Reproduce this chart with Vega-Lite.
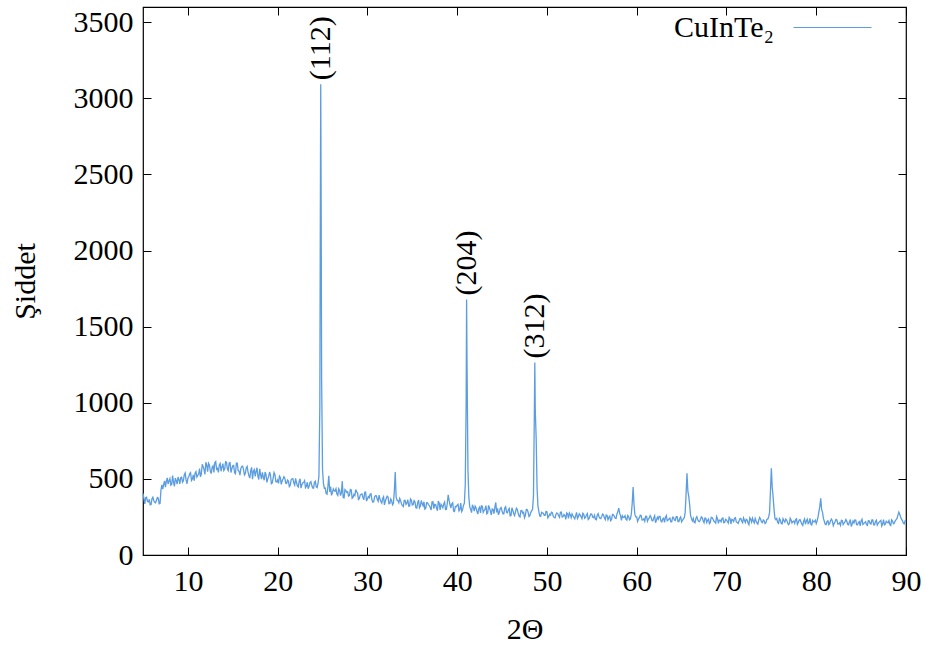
{
  "$schema": "https://vega.github.io/schema/vega-lite/v6.json",
  "width": 763,
  "height": 548,
  "autosize": {"type": "none"},
  "padding": {"left": 143, "top": 7, "right": 20, "bottom": 91},
  "background": "white",
  "config": {
    "view": {"stroke": "black", "strokeWidth": 1.2},
    "font": "Liberation Serif",
    "mark": {"font": "Liberation Serif"},
    "text": {"font": "Liberation Serif"},
    "axis": {
      "grid": false,
      "domain": false,
      "tickColor": "black",
      "tickSize": -8,
      "tickWidth": 1,
      "labelFlush": false,
      "labelFont": "Liberation Serif",
      "labelFontSize": 30,
      "labelColor": "black",
      "titleFont": "Liberation Serif",
      "titleFontSize": 30,
      "titleFontWeight": "normal",
      "titleColor": "black"
    },
    "legend": {
      "labelFont": "Liberation Serif",
      "labelFontSize": 30,
      "labelColor": "black"
    }
  },
  "datasets": {
    "xrd": [
      {"t":5.0,"i":405},{"t":5.2,"i":335},{"t":5.4,"i":379},{"t":5.6,"i":349},{"t":5.8,"i":330},{"t":6.0,"i":369},{"t":6.2,"i":358},{"t":6.4,"i":343},{"t":6.6,"i":377},{"t":6.8,"i":337},
      {"t":7.0,"i":427},{"t":7.2,"i":432},{"t":7.4,"i":487},{"t":7.6,"i":483},{"t":7.8,"i":466},{"t":8.0,"i":502},{"t":8.2,"i":464},{"t":8.4,"i":479},{"t":8.6,"i":505},{"t":8.8,"i":466},
      {"t":9.0,"i":497},{"t":9.2,"i":508},{"t":9.4,"i":478},{"t":9.6,"i":528},{"t":9.8,"i":493},{"t":10.0,"i":504},{"t":10.2,"i":533},{"t":10.4,"i":490},{"t":10.6,"i":527},{"t":10.8,"i":538},
      {"t":11.0,"i":512},{"t":11.2,"i":532},{"t":11.4,"i":513},{"t":11.6,"i":596},{"t":11.8,"i":563},{"t":12.0,"i":609},{"t":12.2,"i":548},{"t":12.4,"i":592},{"t":12.6,"i":535},{"t":12.8,"i":586},
      {"t":13.0,"i":608},{"t":13.2,"i":563},{"t":13.4,"i":543},{"t":13.6,"i":601},{"t":13.8,"i":579},{"t":14.0,"i":555},{"t":14.2,"i":612},{"t":14.4,"i":565},{"t":14.6,"i":604},{"t":14.8,"i":542},
      {"t":15.0,"i":586},{"t":15.2,"i":540},{"t":15.4,"i":604},{"t":15.6,"i":555},{"t":15.8,"i":525},{"t":16.0,"i":581},{"t":16.2,"i":561},{"t":16.4,"i":535},{"t":16.6,"i":582},{"t":16.8,"i":520},
      {"t":17.0,"i":554},{"t":17.2,"i":498},{"t":17.4,"i":561},{"t":17.6,"i":550},{"t":17.8,"i":517},{"t":18.0,"i":566},{"t":18.2,"i":499},{"t":18.4,"i":513},{"t":18.6,"i":545},{"t":18.8,"i":477},
      {"t":19.0,"i":516},{"t":19.2,"i":525},{"t":19.4,"i":473},{"t":19.6,"i":542},{"t":19.8,"i":481},{"t":20.0,"i":493},{"t":20.2,"i":519},{"t":20.4,"i":464},{"t":20.6,"i":499},{"t":20.8,"i":505},
      {"t":21.0,"i":470},{"t":21.2,"i":486},{"t":21.4,"i":458},{"t":21.6,"i":500},{"t":21.8,"i":472},{"t":22.0,"i":503},{"t":22.2,"i":454},{"t":22.4,"i":485},{"t":22.6,"i":439},{"t":22.8,"i":474},
      {"t":23.0,"i":488},{"t":23.2,"i":452},{"t":23.4,"i":435},{"t":23.6,"i":476},{"t":23.8,"i":458},{"t":24.0,"i":439},{"t":24.2,"i":484},{"t":24.4,"i":443},{"t":24.6,"i":520},{"t":24.7,"i":980},
      {"t":24.75,"i":2100},{"t":24.8,"i":3093},{"t":24.85,"i":2250},{"t":24.9,"i":1150},{"t":25.0,"i":560},{"t":25.1,"i":470},{"t":25.2,"i":439},{"t":25.4,"i":404},{"t":25.6,"i":451},{"t":25.7,"i":520},
      {"t":25.8,"i":415},{"t":26.0,"i":392},{"t":26.2,"i":434},{"t":26.4,"i":420},{"t":26.6,"i":400},{"t":26.8,"i":436},{"t":27.0,"i":390},{"t":27.2,"i":485},{"t":27.4,"i":375},{"t":27.6,"i":423},
      {"t":27.8,"i":415},{"t":28.0,"i":391},{"t":28.2,"i":428},{"t":28.4,"i":379},{"t":28.6,"i":390},{"t":28.7,"i":430},{"t":28.8,"i":414},{"t":29.0,"i":365},{"t":29.2,"i":394},{"t":29.4,"i":401},
      {"t":29.6,"i":362},{"t":29.8,"i":413},{"t":30.0,"i":368},{"t":30.2,"i":376},{"t":30.4,"i":402},{"t":30.6,"i":347},{"t":30.8,"i":382},{"t":31.0,"i":388},{"t":31.2,"i":353},{"t":31.4,"i":369},
      {"t":31.6,"i":341},{"t":31.8,"i":383},{"t":32.0,"i":355},{"t":32.2,"i":386},{"t":32.4,"i":337},{"t":32.6,"i":368},{"t":32.8,"i":330},{"t":33.0,"i":420},{"t":33.1,"i":545},{"t":33.2,"i":380},
      {"t":33.4,"i":357},{"t":33.6,"i":371},{"t":33.8,"i":335},{"t":34.0,"i":318},{"t":34.2,"i":359},{"t":34.4,"i":341},{"t":34.6,"i":322},{"t":34.8,"i":368},{"t":35.0,"i":328},{"t":35.2,"i":357},
      {"t":35.4,"i":310},{"t":35.6,"i":344},{"t":35.8,"i":310},{"t":36.0,"i":358},{"t":36.2,"i":323},{"t":36.4,"i":301},{"t":36.6,"i":344},{"t":36.8,"i":331},{"t":37.0,"i":312},{"t":37.2,"i":349},
      {"t":37.4,"i":304},{"t":37.6,"i":331},{"t":37.8,"i":291},{"t":38.0,"i":340},{"t":38.2,"i":333},{"t":38.4,"i":310},{"t":38.6,"i":348},{"t":38.8,"i":300},{"t":39.0,"i":395},{"t":39.2,"i":330},
      {"t":39.4,"i":337},{"t":39.6,"i":289},{"t":39.8,"i":319},{"t":40.0,"i":327},{"t":40.2,"i":289},{"t":40.4,"i":341},{"t":40.6,"i":297},{"t":40.8,"i":340},{"t":40.9,"i":460},{"t":41.0,"i":1000},
      {"t":41.05,"i":1678},{"t":41.1,"i":1250},{"t":41.2,"i":560},{"t":41.3,"i":380},{"t":41.4,"i":316},{"t":41.6,"i":278},{"t":41.8,"i":314},{"t":42.0,"i":321},{"t":42.2,"i":287},{"t":42.4,"i":304},
      {"t":42.6,"i":277},{"t":42.8,"i":320},{"t":43.0,"i":293},{"t":43.2,"i":325},{"t":43.4,"i":277},{"t":43.6,"i":309},{"t":43.8,"i":264},{"t":44.0,"i":300},{"t":44.2,"i":315},{"t":44.3,"i":345},
      {"t":44.4,"i":280},{"t":44.6,"i":264},{"t":44.8,"i":306},{"t":45.0,"i":289},{"t":45.2,"i":271},{"t":45.4,"i":317},{"t":45.6,"i":277},{"t":45.8,"i":306},{"t":46.0,"i":259},{"t":46.2,"i":293},
      {"t":46.4,"i":259},{"t":46.6,"i":307},{"t":46.8,"i":272},{"t":47.0,"i":250},{"t":47.2,"i":293},{"t":47.4,"i":280},{"t":47.6,"i":261},{"t":47.8,"i":298},{"t":48.0,"i":253},{"t":48.2,"i":280},
      {"t":48.4,"i":300},{"t":48.5,"i":390},{"t":48.6,"i":950},{"t":48.65,"i":1265},{"t":48.7,"i":950},{"t":48.8,"i":767},{"t":48.9,"i":440},{"t":49.0,"i":320},{"t":49.2,"i":256},{"t":49.4,"i":280},
      {"t":49.6,"i":274},{"t":49.8,"i":260},{"t":50.0,"i":285},{"t":50.2,"i":253},{"t":50.4,"i":262},{"t":50.6,"i":278},{"t":50.8,"i":246},{"t":51.0,"i":266},{"t":51.2,"i":272},{"t":51.4,"i":247},
      {"t":51.6,"i":282},{"t":51.8,"i":252},{"t":52.0,"i":259},{"t":52.2,"i":276},{"t":52.4,"i":241},{"t":52.6,"i":265},{"t":52.8,"i":270},{"t":53.0,"i":247},{"t":53.2,"i":259},{"t":53.4,"i":240},
      {"t":53.6,"i":270},{"t":53.8,"i":251},{"t":54.0,"i":274},{"t":54.2,"i":241},{"t":54.4,"i":263},{"t":54.6,"i":233},{"t":54.8,"i":258},{"t":55.0,"i":268},{"t":55.2,"i":245},{"t":55.4,"i":234},
      {"t":55.6,"i":262},{"t":55.8,"i":251},{"t":56.0,"i":239},{"t":56.2,"i":269},{"t":56.4,"i":244},{"t":56.6,"i":263},{"t":56.8,"i":232},{"t":57.0,"i":255},{"t":57.2,"i":233},{"t":57.4,"i":265},
      {"t":57.6,"i":242},{"t":57.8,"i":270},{"t":58.0,"i":308},{"t":58.2,"i":258},{"t":58.4,"i":257},{"t":58.6,"i":247},{"t":58.8,"i":236},{"t":59.0,"i":260},{"t":59.2,"i":231},{"t":59.4,"i":270},
      {"t":59.5,"i":340},{"t":59.6,"i":446},{"t":59.7,"i":330},{"t":59.8,"i":265},{"t":60.0,"i":250},{"t":60.2,"i":236},{"t":60.4,"i":261},{"t":60.6,"i":230},{"t":60.8,"i":238},{"t":61.0,"i":255},
      {"t":61.2,"i":222},{"t":61.4,"i":243},{"t":61.6,"i":248},{"t":61.8,"i":224},{"t":62.0,"i":258},{"t":62.2,"i":229},{"t":62.4,"i":235},{"t":62.6,"i":253},{"t":62.8,"i":218},{"t":63.0,"i":242},
      {"t":63.2,"i":247},{"t":63.4,"i":225},{"t":63.6,"i":236},{"t":63.8,"i":218},{"t":64.0,"i":248},{"t":64.2,"i":229},{"t":64.4,"i":252},{"t":64.6,"i":220},{"t":64.8,"i":241},{"t":65.0,"i":218},
      {"t":65.2,"i":237},{"t":65.4,"i":280},{"t":65.5,"i":400},{"t":65.6,"i":537},{"t":65.7,"i":420},{"t":65.8,"i":385},{"t":65.9,"i":330},{"t":66.0,"i":260},{"t":66.2,"i":224},{"t":66.4,"i":214},
      {"t":66.6,"i":242},{"t":66.8,"i":231},{"t":67.0,"i":219},{"t":67.2,"i":250},{"t":67.4,"i":225},{"t":67.6,"i":243},{"t":67.8,"i":213},{"t":68.0,"i":236},{"t":68.2,"i":214},{"t":68.4,"i":246},
      {"t":68.6,"i":223},{"t":68.8,"i":209},{"t":69.0,"i":239},{"t":69.2,"i":229},{"t":69.4,"i":218},{"t":69.6,"i":243},{"t":69.8,"i":214},{"t":70.0,"i":231},{"t":70.2,"i":210},{"t":70.4,"i":239},
      {"t":70.6,"i":234},{"t":70.8,"i":220},{"t":71.0,"i":245},{"t":71.2,"i":214},{"t":71.4,"i":223},{"t":71.6,"i":240},{"t":71.8,"i":212},{"t":72.0,"i":228},{"t":72.2,"i":234},{"t":72.4,"i":210},
      {"t":72.6,"i":245},{"t":72.8,"i":216},{"t":73.0,"i":222},{"t":73.2,"i":240},{"t":73.4,"i":210},{"t":73.6,"i":230},{"t":73.8,"i":235},{"t":74.0,"i":212},{"t":74.2,"i":224},{"t":74.4,"i":212},
      {"t":74.6,"i":236},{"t":74.8,"i":280},{"t":74.9,"i":420},{"t":75.0,"i":570},{"t":75.1,"i":440},{"t":75.15,"i":415},{"t":75.3,"i":300},{"t":75.4,"i":240},{"t":75.6,"i":240},{"t":75.8,"i":208},
      {"t":76.0,"i":230},{"t":76.2,"i":205},{"t":76.4,"i":225},{"t":76.6,"i":236},{"t":76.8,"i":213},{"t":77.0,"i":205},{"t":77.2,"i":230},{"t":77.4,"i":220},{"t":77.6,"i":208},{"t":77.8,"i":238},
      {"t":78.0,"i":213},{"t":78.2,"i":232},{"t":78.4,"i":202},{"t":78.6,"i":224},{"t":78.8,"i":202},{"t":79.0,"i":235},{"t":79.2,"i":212},{"t":79.4,"i":202},{"t":79.6,"i":227},{"t":79.8,"i":218},
      {"t":80.0,"i":207},{"t":80.2,"i":250},{"t":80.4,"i":320},{"t":80.5,"i":373},{"t":80.6,"i":300},{"t":80.7,"i":280},{"t":80.8,"i":240},{"t":81.0,"i":202},{"t":81.2,"i":220},{"t":81.4,"i":200},
      {"t":81.6,"i":227},{"t":81.8,"i":222},{"t":82.0,"i":208},{"t":82.2,"i":234},{"t":82.4,"i":203},{"t":82.6,"i":211},{"t":82.8,"i":228},{"t":83.0,"i":200},{"t":83.2,"i":217},{"t":83.4,"i":223},
      {"t":83.6,"i":199},{"t":83.8,"i":233},{"t":84.0,"i":204},{"t":84.2,"i":211},{"t":84.4,"i":229},{"t":84.6,"i":198},{"t":84.8,"i":219},{"t":85.0,"i":224},{"t":85.2,"i":201},{"t":85.4,"i":213},
      {"t":85.6,"i":199},{"t":85.8,"i":225},{"t":86.0,"i":207},{"t":86.2,"i":230},{"t":86.4,"i":198},{"t":86.6,"i":220},{"t":86.8,"i":196},{"t":87.0,"i":216},{"t":87.2,"i":227},{"t":87.4,"i":204},
      {"t":87.6,"i":198},{"t":87.8,"i":222},{"t":88.0,"i":212},{"t":88.2,"i":200},{"t":88.4,"i":231},{"t":88.6,"i":206},{"t":88.8,"i":225},{"t":89.0,"i":240},{"t":89.2,"i":282},{"t":89.4,"i":250},
      {"t":89.6,"i":226},{"t":89.8,"i":205},{"t":90.0,"i":218},
      {"t":5.1,"i":372},{"t":5.3,"i":376},{"t":5.5,"i":351},{"t":5.7,"i":366},{"t":5.9,"i":332},{"t":6.1,"i":380},{"t":6.3,"i":346},{"t":6.5,"i":360},{"t":6.7,"i":373},{"t":6.9,"i":340},
      {"t":7.1,"i":460},{"t":7.3,"i":463},{"t":7.5,"i":445},{"t":7.7,"i":507},{"t":7.9,"i":487},{"t":8.1,"i":459},{"t":8.3,"i":522},{"t":8.5,"i":451},{"t":8.7,"i":490},{"t":8.9,"i":512},
      {"t":9.1,"i":467},{"t":9.3,"i":511},{"t":9.5,"i":488},{"t":9.7,"i":539},{"t":9.9,"i":468},{"t":10.1,"i":514},{"t":10.3,"i":541},{"t":10.5,"i":500},{"t":10.7,"i":489},{"t":10.9,"i":548},
      {"t":11.1,"i":523},{"t":11.3,"i":567},{"t":11.5,"i":531},{"t":11.7,"i":580},{"t":11.9,"i":529},{"t":12.1,"i":590},{"t":12.3,"i":603},{"t":12.5,"i":551},{"t":12.7,"i":577},{"t":12.9,"i":542},
      {"t":13.1,"i":614},{"t":13.3,"i":569},{"t":13.5,"i":591},{"t":13.7,"i":550},{"t":13.9,"i":600},{"t":14.1,"i":565},{"t":14.3,"i":609},{"t":14.5,"i":554},{"t":14.7,"i":606},{"t":14.9,"i":567},
      {"t":15.1,"i":588},{"t":15.3,"i":534},{"t":15.5,"i":604},{"t":15.7,"i":551},{"t":15.9,"i":568},{"t":16.1,"i":584},{"t":16.3,"i":526},{"t":16.5,"i":572},{"t":16.7,"i":546},{"t":16.9,"i":505},
      {"t":17.1,"i":576},{"t":17.3,"i":550},{"t":17.5,"i":517},{"t":17.7,"i":573},{"t":17.9,"i":496},{"t":18.1,"i":528},{"t":18.3,"i":543},{"t":18.5,"i":491},{"t":18.7,"i":529},{"t":18.9,"i":500},
      {"t":19.1,"i":545},{"t":19.3,"i":468},{"t":19.5,"i":507},{"t":19.7,"i":528},{"t":19.9,"i":480},{"t":20.1,"i":471},{"t":20.3,"i":510},{"t":20.5,"i":486},{"t":20.7,"i":514},{"t":20.9,"i":472},
      {"t":21.1,"i":492},{"t":21.3,"i":450},{"t":21.5,"i":494},{"t":21.7,"i":501},{"t":21.9,"i":459},{"t":22.1,"i":476},{"t":22.3,"i":447},{"t":22.5,"i":501},{"t":22.7,"i":462},{"t":22.9,"i":476},
      {"t":23.1,"i":443},{"t":23.3,"i":478},{"t":23.5,"i":451},{"t":23.7,"i":482},{"t":23.9,"i":440},{"t":24.1,"i":477},{"t":24.3,"i":447},{"t":24.5,"i":470},
      {"t":25.3,"i":440},{"t":25.5,"i":399},{"t":25.9,"i":449},{"t":26.1,"i":409},{"t":26.3,"i":422},{"t":26.5,"i":435},{"t":26.7,"i":391},{"t":26.9,"i":426},
      {"t":27.1,"i":407},{"t":27.3,"i":377},{"t":27.5,"i":430},{"t":27.7,"i":412},{"t":27.9,"i":387},{"t":28.1,"i":431},{"t":28.3,"i":373},{"t":28.5,"i":398},{"t":28.9,"i":408},
      {"t":29.1,"i":370},{"t":29.3,"i":399},{"t":29.5,"i":378},{"t":29.7,"i":412},{"t":29.9,"i":354},{"t":30.1,"i":384},{"t":30.3,"i":399},{"t":30.5,"i":363},{"t":30.7,"i":350},{"t":30.9,"i":389},
      {"t":31.1,"i":365},{"t":31.3,"i":393},{"t":31.5,"i":351},{"t":31.7,"i":371},{"t":31.9,"i":329},{"t":32.1,"i":373},{"t":32.3,"i":380},{"t":32.5,"i":338},{"t":32.7,"i":356},{"t":32.9,"i":340},
      {"t":33.3,"i":360},{"t":33.5,"i":343},{"t":33.7,"i":357},{"t":33.9,"i":324},{"t":34.1,"i":359},{"t":34.3,"i":332},{"t":34.5,"i":363},{"t":34.7,"i":322},{"t":34.9,"i":360},
      {"t":35.1,"i":331},{"t":35.3,"i":348},{"t":35.5,"i":308},{"t":35.7,"i":361},{"t":35.9,"i":322},{"t":36.1,"i":336},{"t":36.3,"i":350},{"t":36.5,"i":307},{"t":36.7,"i":343},{"t":36.9,"i":325},
      {"t":37.1,"i":296},{"t":37.3,"i":350},{"t":37.5,"i":333},{"t":37.7,"i":309},{"t":37.9,"i":354},{"t":38.1,"i":297},{"t":38.3,"i":323},{"t":38.5,"i":336},{"t":38.7,"i":299},{"t":38.9,"i":340},
      {"t":39.1,"i":360},{"t":39.3,"i":309},{"t":39.5,"i":343},{"t":39.7,"i":286},{"t":39.9,"i":317},{"t":40.1,"i":333},{"t":40.3,"i":298},{"t":40.5,"i":286},{"t":40.7,"i":326},
      {"t":41.5,"i":301},{"t":41.7,"i":330},{"t":41.9,"i":289},{"t":42.1,"i":310},{"t":42.3,"i":269},{"t":42.5,"i":314},{"t":42.7,"i":322},{"t":42.9,"i":281},
      {"t":43.1,"i":299},{"t":43.3,"i":271},{"t":43.5,"i":326},{"t":43.7,"i":288},{"t":43.9,"i":303},{"t":44.1,"i":271},{"t":44.5,"i":306},{"t":44.7,"i":280},{"t":44.9,"i":312},
      {"t":45.1,"i":271},{"t":45.3,"i":309},{"t":45.5,"i":280},{"t":45.7,"i":297},{"t":45.9,"i":257},{"t":46.1,"i":310},{"t":46.3,"i":271},{"t":46.5,"i":285},{"t":46.7,"i":299},{"t":46.9,"i":256},
      {"t":47.1,"i":292},{"t":47.3,"i":274},{"t":47.5,"i":245},{"t":47.7,"i":299},{"t":47.9,"i":282},{"t":48.1,"i":258},{"t":48.3,"i":290},
      {"t":49.1,"i":285},{"t":49.3,"i":254},{"t":49.5,"i":276},{"t":49.7,"i":260},{"t":49.9,"i":287},
      {"t":50.1,"i":244},{"t":50.3,"i":268},{"t":50.5,"i":281},{"t":50.7,"i":254},{"t":50.9,"i":244},{"t":51.1,"i":276},{"t":51.3,"i":258},{"t":51.5,"i":281},{"t":51.7,"i":249},{"t":51.9,"i":266},
      {"t":52.1,"i":234},{"t":52.3,"i":270},{"t":52.5,"i":276},{"t":52.7,"i":245},{"t":52.9,"i":258},{"t":53.1,"i":237},{"t":53.3,"i":280},{"t":53.5,"i":251},{"t":53.7,"i":263},{"t":53.9,"i":239},
      {"t":54.1,"i":267},{"t":54.3,"i":247},{"t":54.5,"i":272},{"t":54.7,"i":240},{"t":54.9,"i":270},{"t":55.1,"i":248},{"t":55.3,"i":261},{"t":55.5,"i":231},{"t":55.7,"i":272},{"t":55.9,"i":242},
      {"t":56.1,"i":253},{"t":56.3,"i":264},{"t":56.5,"i":232},{"t":56.7,"i":260},{"t":56.9,"i":247},{"t":57.1,"i":225},{"t":57.3,"i":267},{"t":57.5,"i":254},{"t":57.7,"i":240},{"t":57.9,"i":285},
      {"t":58.1,"i":275},{"t":58.3,"i":227},{"t":58.5,"i":247},{"t":58.7,"i":258},{"t":58.9,"i":229},{"t":59.1,"i":253},{"t":59.3,"i":237},{"t":59.9,"i":250},
      {"t":60.1,"i":221},{"t":60.3,"i":245},{"t":60.5,"i":258},{"t":60.7,"i":231},{"t":60.9,"i":222},{"t":61.1,"i":254},{"t":61.3,"i":236},{"t":61.5,"i":259},{"t":61.7,"i":227},{"t":61.9,"i":244},
      {"t":62.1,"i":212},{"t":62.3,"i":248},{"t":62.5,"i":254},{"t":62.7,"i":223},{"t":62.9,"i":237},{"t":63.1,"i":215},{"t":63.3,"i":259},{"t":63.5,"i":230},{"t":63.7,"i":242},{"t":63.9,"i":218},
      {"t":64.1,"i":247},{"t":64.3,"i":226},{"t":64.5,"i":252},{"t":64.7,"i":220},{"t":64.9,"i":250},{"t":65.1,"i":228},{"t":65.3,"i":245},
      {"t":66.1,"i":240},{"t":66.3,"i":241},{"t":66.5,"i":211},{"t":66.7,"i":252},{"t":66.9,"i":222},{"t":67.1,"i":234},{"t":67.3,"i":245},{"t":67.5,"i":212},{"t":67.7,"i":241},{"t":67.9,"i":228},
      {"t":68.1,"i":206},{"t":68.3,"i":248},{"t":68.5,"i":235},{"t":68.7,"i":217},{"t":68.9,"i":253},{"t":69.1,"i":208},{"t":69.3,"i":229},{"t":69.5,"i":240},{"t":69.7,"i":212},{"t":69.9,"i":235},
      {"t":70.1,"i":220},{"t":70.3,"i":248},{"t":70.5,"i":205},{"t":70.7,"i":230},{"t":70.9,"i":242},{"t":71.1,"i":216},{"t":71.3,"i":207},{"t":71.5,"i":239},{"t":71.7,"i":222},{"t":71.9,"i":244},
      {"t":72.1,"i":213},{"t":72.3,"i":230},{"t":72.5,"i":199},{"t":72.7,"i":235},{"t":72.9,"i":241},{"t":73.1,"i":210},{"t":73.3,"i":224},{"t":73.5,"i":203},{"t":73.7,"i":247},{"t":73.9,"i":217},
      {"t":74.1,"i":230},{"t":74.3,"i":206},{"t":74.5,"i":235},{"t":74.7,"i":250},
      {"t":75.5,"i":232},{"t":75.7,"i":214},{"t":75.9,"i":240},{"t":76.1,"i":207},{"t":76.3,"i":238},{"t":76.5,"i":216},{"t":76.7,"i":230},{"t":76.9,"i":199},
      {"t":77.1,"i":241},{"t":77.3,"i":211},{"t":77.5,"i":223},{"t":77.7,"i":233},{"t":77.9,"i":201},{"t":78.1,"i":230},{"t":78.3,"i":217},{"t":78.5,"i":194},{"t":78.7,"i":237},{"t":78.9,"i":224},
      {"t":79.1,"i":206},{"t":79.3,"i":241},{"t":79.5,"i":197},{"t":79.7,"i":218},{"t":79.9,"i":229},{"t":80.1,"i":225},{"t":80.3,"i":285},{"t":80.9,"i":222},
      {"t":81.1,"i":200},{"t":81.3,"i":224},{"t":81.5,"i":208},{"t":81.7,"i":236},{"t":81.9,"i":193},{"t":82.1,"i":218},{"t":82.3,"i":231},{"t":82.5,"i":204},{"t":82.7,"i":195},{"t":82.9,"i":227},
      {"t":83.1,"i":210},{"t":83.3,"i":233},{"t":83.5,"i":202},{"t":83.7,"i":218},{"t":83.9,"i":187},{"t":84.1,"i":223},{"t":84.3,"i":230},{"t":84.5,"i":199},{"t":84.7,"i":213},{"t":84.9,"i":192},
      {"t":85.1,"i":235},{"t":85.3,"i":206},{"t":85.5,"i":219},{"t":85.7,"i":195},{"t":85.9,"i":224},{"t":86.1,"i":204},{"t":86.3,"i":230},{"t":86.5,"i":198},{"t":86.7,"i":229},{"t":86.9,"i":207},
      {"t":87.1,"i":221},{"t":87.3,"i":191},{"t":87.5,"i":233},{"t":87.7,"i":203},{"t":87.9,"i":215},{"t":88.1,"i":226},{"t":88.3,"i":194},{"t":88.5,"i":223},{"t":88.7,"i":210},{"t":88.9,"i":232},
      {"t":89.1,"i":262},{"t":89.3,"i":268},{"t":89.5,"i":235},{"t":89.7,"i":210},{"t":89.9,"i":224}
    ],
    "peaks": [
      {"t":24.8,"i":3093,"hkl":"(112)"},
      {"t":41.05,"i":1678,"hkl":"(204)"},
      {"t":48.65,"i":1265,"hkl":"(312)"}
    ]
  },
  "layer": [
    {
      "data": {"name": "xrd"},
      "mark": {"type": "line", "strokeWidth": 1.3, "interpolate": "linear"},
      "encoding": {
        "x": {
          "field": "t", "type": "quantitative",
          "scale": {"domain": [5, 90], "nice": false, "zero": false},
          "axis": {"orient": "bottom", "values": [10,20,30,40,50,60,70,80,90], "title": "2Θ", "labelPadding": 19, "titlePadding": 18}
        },
        "y": {
          "field": "i", "type": "quantitative",
          "scale": {"domain": [0, 3600], "nice": false},
          "axis": {"orient": "left", "values": [0,500,1000,1500,2000,2500,3000,3500], "format": "d", "title": "Şiddet", "labelPadding": 18, "titlePadding": 33}
        },
        "color": {
          "datum": "CuInTe₂", "type": "nominal",
          "scale": {"range": ["#5b9de0"]},
          "legend": {
            "title": null,
            "orient": "none",
            "legendX": 650,
            "legendY": -19,
            "symbolType": "stroke",
            "symbolSize": 6084,
            "symbolStrokeWidth": 1,
            "labelAlign": "right",
            "labelOffset": -98,
            "padding": 0
          }
        }
      }
    },
    {
      "data": {"name": "peaks"},
      "mark": {"type": "text", "angle": 270, "align": "left", "baseline": "middle", "dx": 4, "font": "Liberation Serif", "fontSize": 30, "color": "black"},
      "encoding": {
        "x": {"field": "t", "type": "quantitative", "axis": {"orient": "top", "labels": false, "title": null, "values": [10,20,30,40,50,60,70,80,90]}},
        "y": {"field": "i", "type": "quantitative", "axis": {"orient": "right", "labels": false, "title": null, "values": [0,500,1000,1500,2000,2500,3000,3500]}},
        "text": {"field": "hkl"}
      }
    }
  ],
  "resolve": {"axis": {"x": "independent", "y": "independent"}}
}
